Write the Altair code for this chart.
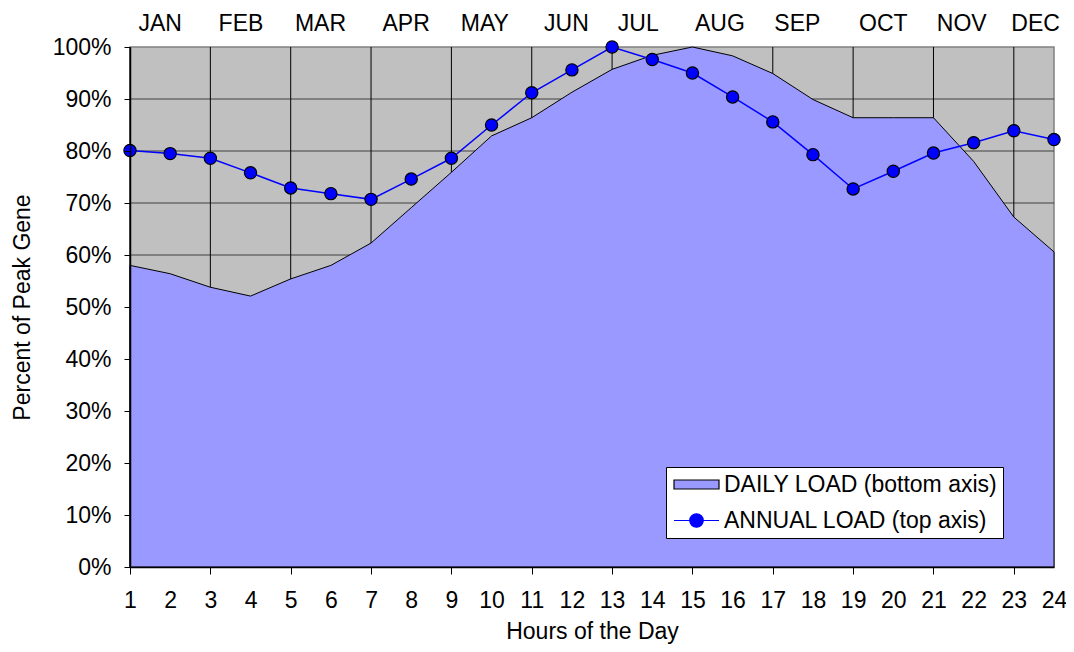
import altair as alt
import pandas as pd

# ---------------- data ----------------
hours = list(range(1, 25))
daily_load = [58.0, 56.4, 53.8, 52.1, 55.4, 58.0, 62.3, 69.1, 75.9, 82.9, 86.4, 91.3,
              95.7, 98.4, 100.0, 98.3, 94.9, 89.9, 86.4, 86.4, 86.4, 78.0, 67.3, 60.6]
annual_load = [80.1, 79.5, 78.6, 75.8, 72.9, 71.8, 70.7, 74.6, 78.6, 85.0, 91.2, 95.6,
               100.0, 97.6, 95.0, 90.4, 85.6, 79.3, 72.7, 76.1, 79.6, 81.6, 83.9, 82.2]
months = ["JAN", "FEB", "MAR", "APR", "MAY", "JUN",
          "JUL", "AUG", "SEP", "OCT", "NOV", "DEC"]
# where each month label sits on the top axis (in hour units of the shared scale)
month_label_at = [1.74, 3.75, 5.73, 7.86, 9.82, 11.85, 13.64, 15.67, 17.6, 19.74, 21.69, 23.53]
y_ticks = list(range(0, 101, 10))
series_names = ["DAILY LOAD (bottom axis)", "ANNUAL LOAD (top axis)"]

odd_hours = [h for h in hours if h % 2 == 1]

df = pd.DataFrame({"hour": hours, "daily": daily_load, "annual": annual_load})
legend_df = pd.DataFrame({"series": series_names})
hgrid_df = pd.DataFrame({"v": y_ticks[:-1]})
vgrid_df = pd.DataFrame({"h": odd_hours})
one_row = pd.DataFrame({"k": [0]})

# ---------------- style ----------------
FONT = "Liberation Sans"
FS = 23
W, H = 924, 520
AREA_FILL = "#9999FF"
BLUE = "#0000FF"

x_scale = alt.Scale(domain=[1, 24], nice=False, zero=False)
y_scale = alt.Scale(domain=[0, 100], nice=False, zero=True)

odd_only = {"condition": {"test": "datum.value % 2 == 1", "value": 1}, "value": 0}

month_expr = ("[" + ",".join("'%s'" % m for m in months) + "][indexof(["
              + ",".join(str(p) for p in month_label_at) + "], datum.value)]")

x_bottom = alt.Axis(
    orient="bottom", values=hours, format="d", title="Hours of the Day",
    grid=False, zindex=1,
    ticks=True, tickSize=7, tickColor="black", tickOpacity=odd_only,
    domainColor="black", domainWidth=1.5,
    labelFont=FONT, labelFontSize=FS, labelColor="black", labelPadding=15,
    labelFlush=False, labelOverlap=False,
    titleFont=FONT, titleFontSize=FS, titleFontWeight="normal", titleColor="black",
    titleX=W / 2, titleY=71, titleBaseline="alphabetic", titleAlign="center",
)

x_top = alt.Axis(
    orient="top", values=month_label_at, labelExpr=month_expr,
    ticks=False, tickSize=0, domain=False, grid=False, title=None, zindex=1,
    labelFont=FONT, labelFontSize=FS, labelColor="black", labelPadding=17,
    labelBaseline="alphabetic", labelAlign="center",
    labelFlush=False, labelOverlap=False,
)

y_axis = alt.Axis(
    orient="left", values=y_ticks, labelExpr="datum.value + '%'", title="Percent of Peak Gene",
    grid=False, zindex=1,
    ticks=True, tickSize=6, tickColor="black", domainColor="black", domainWidth=1.5,
    labelFont=FONT, labelFontSize=FS, labelColor="black", labelPadding=13,
    titleFont=FONT, titleFontSize=FS, titleFontWeight="normal", titleColor="black",
    titleX=-101, titleY=H / 2, titleAngle=270, titleAlign="center",
    titleBaseline="alphabetic",
)

# ---------------- layers ----------------
background = alt.Chart(one_row).mark_rect(
    fill="#C0C0C0", stroke="#808080", strokeWidth=1.5
).encode(x=alt.value(0), x2=alt.value(W), y=alt.value(0), y2=alt.value(H))

hgrid = alt.Chart(hgrid_df).mark_rule(color="#404040", strokeWidth=1.2).encode(
    y=alt.Y("v:Q", scale=y_scale, axis=None)
)

vgrid = alt.Chart(vgrid_df).mark_rule(color="black", strokeWidth=1).encode(
    x=alt.X("h:Q", scale=x_scale, axis=None)
)

area = alt.Chart(df).mark_area(
    fill=AREA_FILL, fillOpacity=1, stroke="black", strokeWidth=1
).encode(
    x=alt.X("hour:Q", scale=x_scale, axis=x_bottom),
    y=alt.Y("daily:Q", scale=y_scale, axis=y_axis),
)

line = alt.Chart(df).mark_line(color=BLUE, strokeWidth=1.5).encode(
    x=alt.X("hour:Q", scale=x_scale, axis=x_top),
    y=alt.Y("annual:Q", scale=y_scale, axis=None),
)

points = alt.Chart(df).mark_point(
    filled=True, fill=BLUE, stroke="black", strokeWidth=1.2, size=150, opacity=1
).encode(
    x=alt.X("hour:Q", scale=x_scale, axis=None),
    y=alt.Y("annual:Q", scale=y_scale, axis=None),
)

# legend symbols (unit size 23 -> scale factor 11.5; 45px wide symbols)
RECT_PATH = "M-1.9565,-0.3913H1.9565V0.3913H-1.9565Z"
LINE_PATH = ("M-1.9565,0H-0.587M0.587,0H1.9565"
             "M0.587,0A0.587,0.587,0,1,1,-0.587,0A0.587,0.587,0,1,1,0.587,0Z")

leg = alt.Legend(
    title=None, orient="none", legendX=536, legendY=420,
    fillColor="white", strokeColor="black", padding=5,
    symbolSize=529, symbolStrokeWidth=1.2, symbolOpacity=1, symbolOffset=13,
    labelFont=FONT, labelFontSize=FS, labelColor="black", labelLimit=500,
    labelOffset=15, rowPadding=11,
)

legend_layer = alt.Chart(legend_df).transform_filter("false").mark_point(
    filled=True, opacity=1
).encode(
    shape=alt.Shape("series:N", scale=alt.Scale(domain=series_names, range=[RECT_PATH, LINE_PATH]), legend=leg),
    fill=alt.Fill("series:N", scale=alt.Scale(domain=series_names, range=[AREA_FILL, BLUE]), legend=leg),
    stroke=alt.Stroke("series:N", scale=alt.Scale(domain=series_names, range=["black", BLUE]), legend=leg),
)

chart = alt.layer(background, hgrid, vgrid, area, line, points, legend_layer).resolve_axis(
    x="independent", y="independent"
).properties(
    width=W, height=H,
    autosize=alt.AutoSizeParams(type="none"),
    padding={"left": 122, "top": 39, "right": 12, "bottom": 77},
).configure(
    background="white"
).configure_view(
    strokeWidth=0
)

chart.save("out.html", embed_options={"renderer": "svg", "actions": False})
